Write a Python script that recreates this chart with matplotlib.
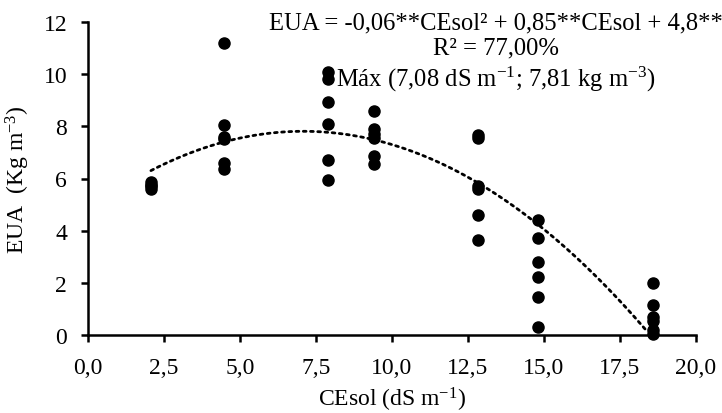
import numpy as np
import matplotlib
matplotlib.use('Agg')
import matplotlib.pyplot as plt

plt.rcParams['font.family'] = ['Liberation Serif', 'DejaVu Serif']
plt.rcParams['mathtext.fontset'] = 'custom'
plt.rcParams['mathtext.rm'] = 'Liberation Serif'
plt.rcParams['mathtext.it'] = 'Liberation Serif:italic'

# dados
cesol = [2.07] * 4 + [4.47] * 6 + [7.9] * 6 + [9.42] * 6 + [12.84] * 6 + [14.79] * 6 + [18.6] * 6
eua = [5.85, 5.75, 5.7, 5.6,
       11.2, 8.05, 7.6, 7.5, 6.6, 6.35,
       10.1, 9.8, 8.95, 8.1, 6.7, 5.95,
       8.6, 7.9, 7.7, 7.55, 6.85, 6.55,
       7.65, 7.55, 5.72, 5.6, 4.6, 3.65,
       4.4, 3.7, 2.78, 2.22, 1.45, 0.3,
       2.0, 1.15, 0.7, 0.55, 0.2, 0.05]

# coeficientes da equacao ajustada
a2, a1, a0 = -0.06, 0.85, 4.8
x_ini, x_fim = 2.07, 18.4

xticks = [0, 2.5, 5, 7.5, 10, 12.5, 15, 17.5, 20]
xlabels = ['0,0', '2,5', '5,0', '7,5', '10,0', '12,5', '15,0', '17,5', '20,0']
yticks = [0, 2, 4, 6, 8, 10, 12]

fig = plt.figure(figsize=(7.22, 4.14), dpi=100)
ax = fig.add_axes([88/722, 1-336/414, (696-88)/722, (336-23)/414])

xc = np.linspace(x_ini, x_fim, 200)
ax.plot(xc, a2*xc**2 + a1*xc + a0, color='black', lw=2.0, linestyle=(0, (1, 1.6)),
        dash_capstyle='round', zorder=2)
ax.plot(cesol, eua, 'o', color='black', ms=8, zorder=3, clip_on=False)

ax.set_xlim(0, 20)
ax.set_ylim(0, 12)
ax.set_xticks(xticks)
ax.set_xticklabels(xlabels)
ax.set_yticks(yticks)
ax.spines['top'].set_visible(False)
ax.spines['right'].set_visible(False)
for s in ['left', 'bottom']:
    ax.spines[s].set_linewidth(1.8)
ax.tick_params(axis='both', direction='out', length=5, width=1.8, labelsize=17)
ax.tick_params(axis='x', pad=11)
ax.tick_params(axis='y', pad=10)

ax.set_xlabel(r'CEsol (dS m$^{-1}$)', fontsize=17, labelpad=5)
ax.set_ylabel(r'EUA  (Kg m$^{-3}$)', fontsize=17, labelpad=8)

texto = ('EUA = -0,06**CEsol² + 0,85**CEsol + 4,8**\n'
         'R² = 77,00%\n'
         r'Máx (7,08 dS m$^{-1}$; 7,81 kg m$^{-3}$)')
fig.text(496/722, 1-12/414, texto, ha='center', va='top', fontsize=17.7,
         linespacing=1.22, multialignment='center')

fig.savefig('out.png', dpi=100)
